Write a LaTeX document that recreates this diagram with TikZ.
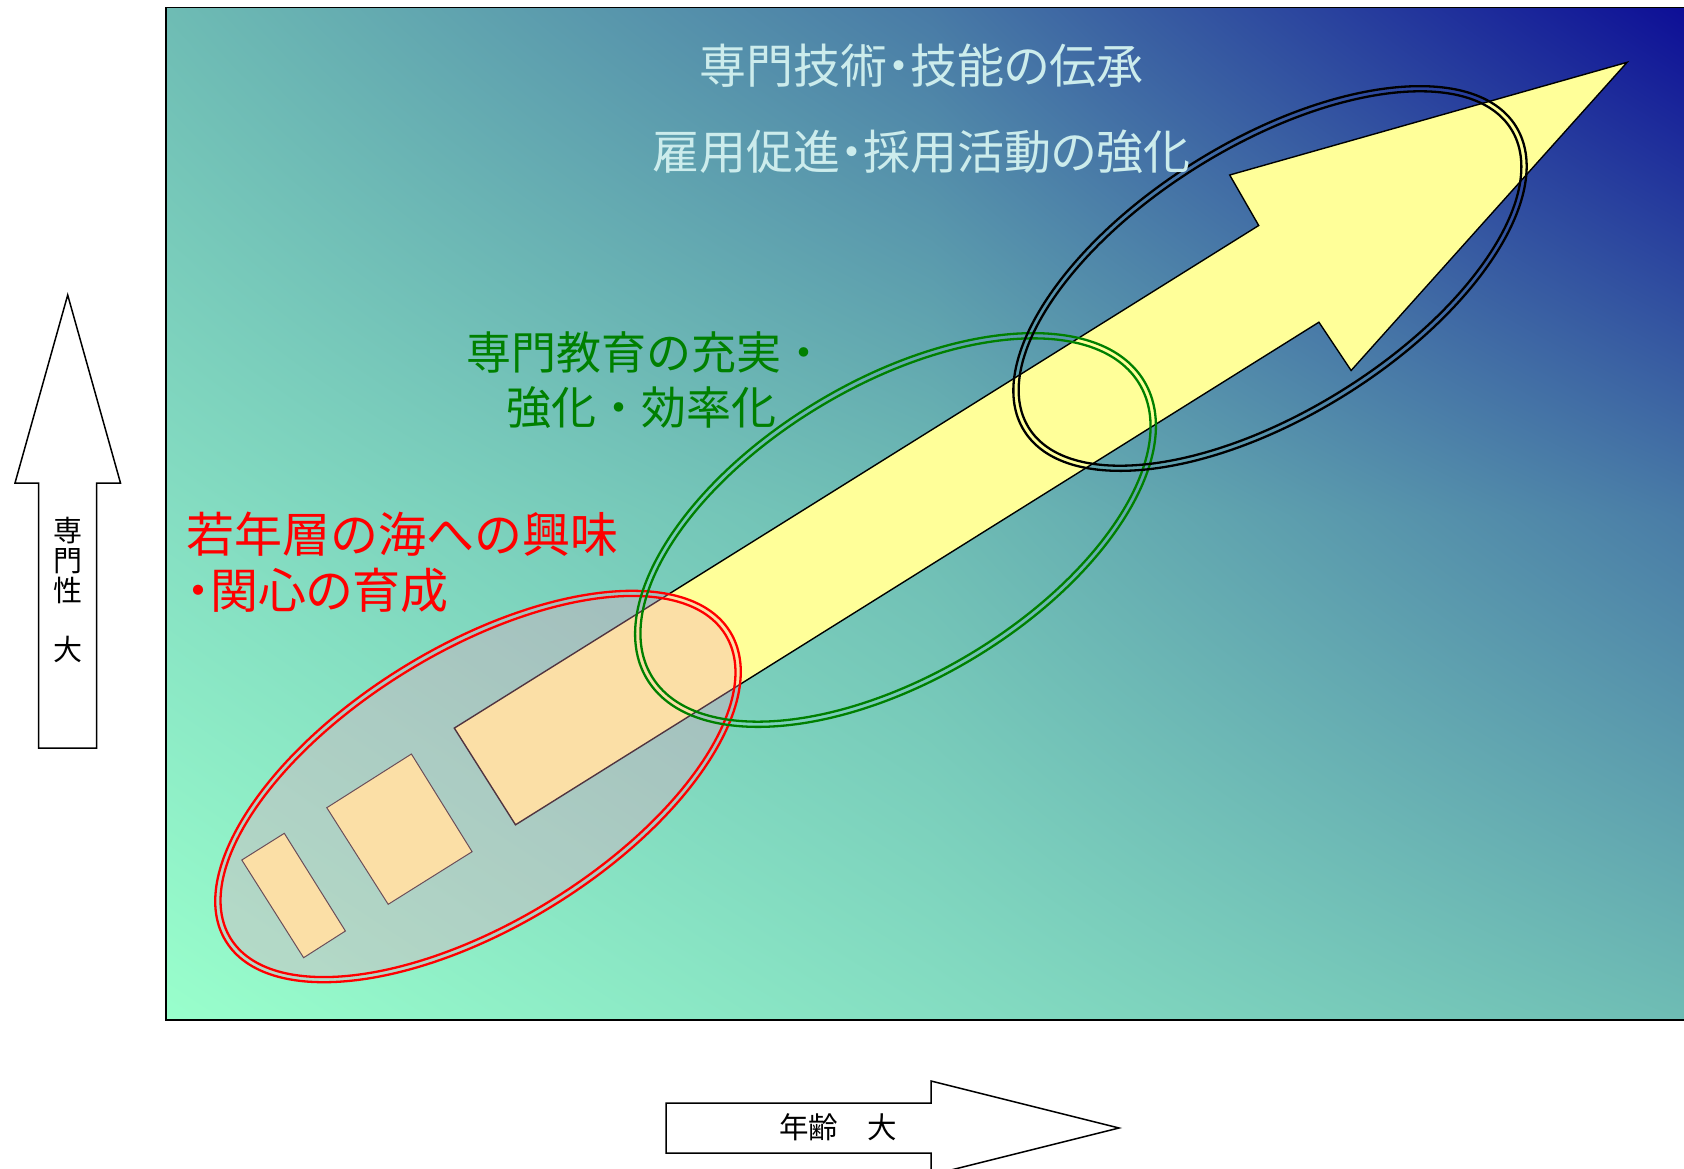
\documentclass[tikz,border=0pt]{standalone}
\usepackage{fontspec}
\usetikzlibrary{shadings}
\newfontfamily\jp{Noto Sans CJK JP}
\newfontfamily\jpp[RawFeature=+palt]{Noto Sans CJK JP}
\definecolor{gA}{RGB}{153,255,204}% t=0
\definecolor{gB}{RGB}{133,222,194}% t=0.25
\definecolor{gC}{RGB}{110,188,180}% t=0.5
\definecolor{gD}{RGB}{72,122,166}% t=0.75
\definecolor{gE}{RGB}{12,12,150}% t=1
\definecolor{arrowyellow}{RGB}{255,255,153}
\definecolor{toptext}{RGB}{204,236,236}
\definecolor{greentext}{RGB}{0,128,0}
\definecolor{redtext}{RGB}{255,0,0}
\definecolor{pinkfill}{RGB}{245,160,195}
\begin{document}
\begin{tikzpicture}[x=1pt,y=-1pt,
  bigarrow/.style={fill=arrowyellow, draw=black, line width=1.4pt, line join=miter},
  smallbox/.style={fill=arrowyellow, draw=black!85, line width=1pt},
  axisarrow/.style={fill=white, draw=black, line width=1.5pt, line join=miter},
  ring/.style={line width=2.3pt},
  label/.style={inner sep=0pt}]
\useasboundingbox (0,0) rectangle (1684,1168);
% background panel: diagonal gradient in four bilinear patches
\shade[lower left=gA, lower right=gB, upper left=gB, upper right=gC] (166,513) rectangle (933.5,1020);
\shade[lower left=gB, lower right=gC, upper left=gC, upper right=gD] (933,513) rectangle (1700,1020);
\shade[lower left=gB, lower right=gC, upper left=gC, upper right=gD] (166,7.5) rectangle (933.5,513.75);
\shade[lower left=gC, lower right=gD, upper left=gD, upper right=gE] (933,7.5) rectangle (1700,513.75);
\draw[line width=1.5pt] (1700,7.5) -- (166,7.5) -- (166,1020) -- (1700,1020);
% big yellow arrow
\draw[bigarrow] (454.3,728.1) -- (1258.7,225.5) -- (1229.7,175.0) -- (1627.1,62.3)
  -- (1351.1,370.5) -- (1318.9,322.2) -- (515.5,824.8) -- cycle;
% small boxes
\draw[smallbox] (241.8,860) -- (284.3,833.3) -- (345.4,931) -- (303.6,957.7) -- cycle;
\draw[smallbox] (326.8,807.7) -- (411.4,754) -- (472.1,851.7) -- (388.2,904.3) -- cycle;
% red ellipse
\fill[pinkfill, opacity=0.33, shift={(478,786.5)}, rotate=31.5] (0,0) ellipse[x radius=296, y radius=141];
\draw[ring, redtext, shift={(478,786.5)}, rotate=31.5] (0,0) ellipse[x radius=295.8, y radius=140.8];
\draw[ring, redtext, shift={(478,786.5)}, rotate=31.5] (0,0) ellipse[x radius=290.3, y radius=135.3];
% green ellipse
\draw[ring, greentext, shift={(895.5,530)}, rotate=30.9] (0,0) ellipse[x radius=289.8, y radius=150.2];
\draw[ring, greentext, shift={(895.5,530)}, rotate=30.9] (0,0) ellipse[x radius=284.3, y radius=144.7];
% black ellipse
\draw[ring, black, shift={(1270,278.5)}, rotate=31.7] (0,0) ellipse[x radius=289.2, y radius=138.6];
\draw[ring, black, shift={(1270,278.5)}, rotate=31.7] (0,0) ellipse[x radius=283.7, y radius=133.1];
% texts
\node[label, text=toptext, font=\jpp\fontsize{47}{50}\selectfont] (t1) at (921.5,66) {専門技術・技能の伝承};
\node[label, text=toptext, font=\jpp\fontsize{47}{50}\selectfont] (t2) at (921.5,152) {雇用促進・採用活動の強化};
\node[label, text=greentext, font=\jp\fontsize{45}{48}\selectfont] (g1) at (646,352.5) {専門教育の充実・};
\node[label, text=greentext, font=\jp\fontsize{45}{48}\selectfont] (g2) at (641,407.5) {強化・効率化};
\node[label, text=redtext, font=\jp\fontsize{48}{50}\selectfont, anchor=west] (r1) at (186,534) {若年層の海への興味};
\node[label, text=redtext, font=\jpp\fontsize{48}{50}\selectfont, anchor=west] (r2) at (186,590) {・関心の育成};
% axis arrows
\draw[axisarrow] (67.7,295) -- (120.5,483) -- (96.7,483) -- (96.7,748) -- (38.7,748)
  -- (38.7,483) -- (15,483) -- cycle;
\node[label, align=center, font=\jp\fontsize{29}{29.8}\selectfont] (yl) at (67.7,590) {専\\門\\性\\\mbox{}\\大};
\draw[axisarrow] (666,1103) -- (931,1103) -- (931,1081) -- (1119,1128) -- (931,1175)
  -- (931,1153) -- (666,1153) -- cycle;
\node[label, font=\jp\fontsize{29.5}{30}\selectfont] (xl) at (838,1127.5) {年齢　大};
\end{tikzpicture}
\end{document}
